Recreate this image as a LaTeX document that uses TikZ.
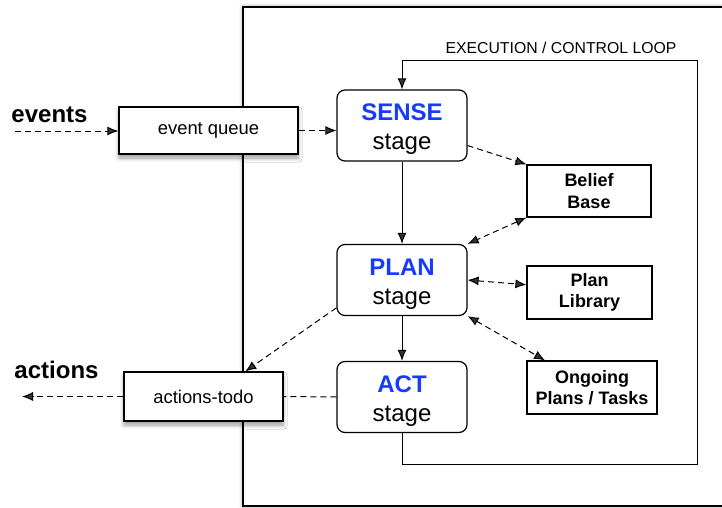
\documentclass[tikz,border=0pt]{standalone}
\usepackage{fontspec}
\setmainfont{Liberation Sans}
\usetikzlibrary{arrows.meta,shadows.blur}
\definecolor{stageblue}{RGB}{20,60,250}

\tikzset{
    stage/.style={draw, rounded corners=4pt, fill=white, align=center,
        minimum width=65pt, minimum height=35.5pt, inner sep=0pt,
        line width=0.6pt, font=\fontsize{12}{14.5}\selectfont},
    store/.style={draw, fill=white, align=center, inner sep=0pt,
        line width=0.6pt, font=\bfseries\fontsize{9}{10.8}\selectfont},
    buffer/.style={draw, fill=white, inner sep=0pt, line width=0.6pt,
        font=\fontsize{9.2}{11}\selectfont,
        blur shadow={shadow xshift=0pt, shadow yshift=-2pt, shadow blur steps=6}},
    flow/.style={dash pattern=on 3pt off 2pt},
}
\newcommand{\stagename}[1]{{\color{stageblue}\bfseries\rule{0pt}{12pt}#1}\\stage}

\begin{document}
\begin{tikzpicture}[x=0.5pt, y=-0.5pt, line width=0.5pt, >={Latex[length=5.5pt,width=4.5pt]}]
        \useasboundingbox (0,0) rectangle (722,508);

        % agent boundary
        \draw [line width=0.7pt, fill=white,
            blur shadow={shadow xshift=0pt, shadow yshift=0pt, shadow blur steps=6}] (243,7) rectangle (770,506);

        % stages
        \node [stage] (sense) at (402,125.5) {\stagename{SENSE}};
        \node [stage] (plan) at (402,280) {\stagename{PLAN}};
        \node [stage] (act) at (402,397) {\stagename{ACT}};

        % knowledge
        \node [store, minimum width=62pt, minimum height=26pt] (belief) at (589,191) {Belief\\Base};
        \node [store, minimum width=62.5pt, minimum height=26.5pt] (library) at (589.5,292.5) {Plan\\Library};
        \node [store, minimum width=65pt, minimum height=26.5pt] (ongoing) at (592,387.5) {Ongoing\\Plans / Tasks};

        % queues
        \node [buffer, minimum width=89.5pt, minimum height=23.5pt] (queue) at (208.5,130.5) {event queue};
        \node [buffer, minimum width=79.5pt, minimum height=24.5pt] (todo) at (203.5,396.5) {actions-todo};

        % outside
        \node [font=\bfseries\fontsize{12}{14}\selectfont] (events) at (49.5,115) {events};
        \node [font=\bfseries\fontsize{12}{14}\selectfont] (actions) at (56.5,370) {actions};
        \coordinate (evin) at (15,131);
        \coordinate (acout) at (22,396.5);

        \draw [flow, ->] (evin) -- (evin -| queue.west);
        \draw [flow, ->] (queue.east) -- (queue.east -| sense.west);
        \draw [flow, ->] (todo.west) -- (acout);

        \draw [->] (sense) -- (plan);
        \draw [->] (plan) -- (act);

        \draw [flow, ->] (sense.-17.5) -- (belief.north west);
        \draw [flow, <->] (belief.south west) -- (plan.north east);
        \draw [flow, <->] (plan.east) -- (library.173);
        \draw [flow, <->] (plan.south east) -- (ongoing.150);
        \draw [flow, ->] (plan.203) -- (todo.31);
        \draw [flow] (act.west) -- (todo.east);

        % control loop
        \coordinate (loopbr) at (697,464);
        \coordinate (looptr) at (697,61);
        \draw [->] (act.south) |- (loopbr) -- (looptr) -| (sense.north);
        \node [font=\fontsize{7.9}{9}\selectfont] (looplabel) at (561,48) {EXECUTION / CONTROL LOOP};
    \end{tikzpicture}
\end{document}
